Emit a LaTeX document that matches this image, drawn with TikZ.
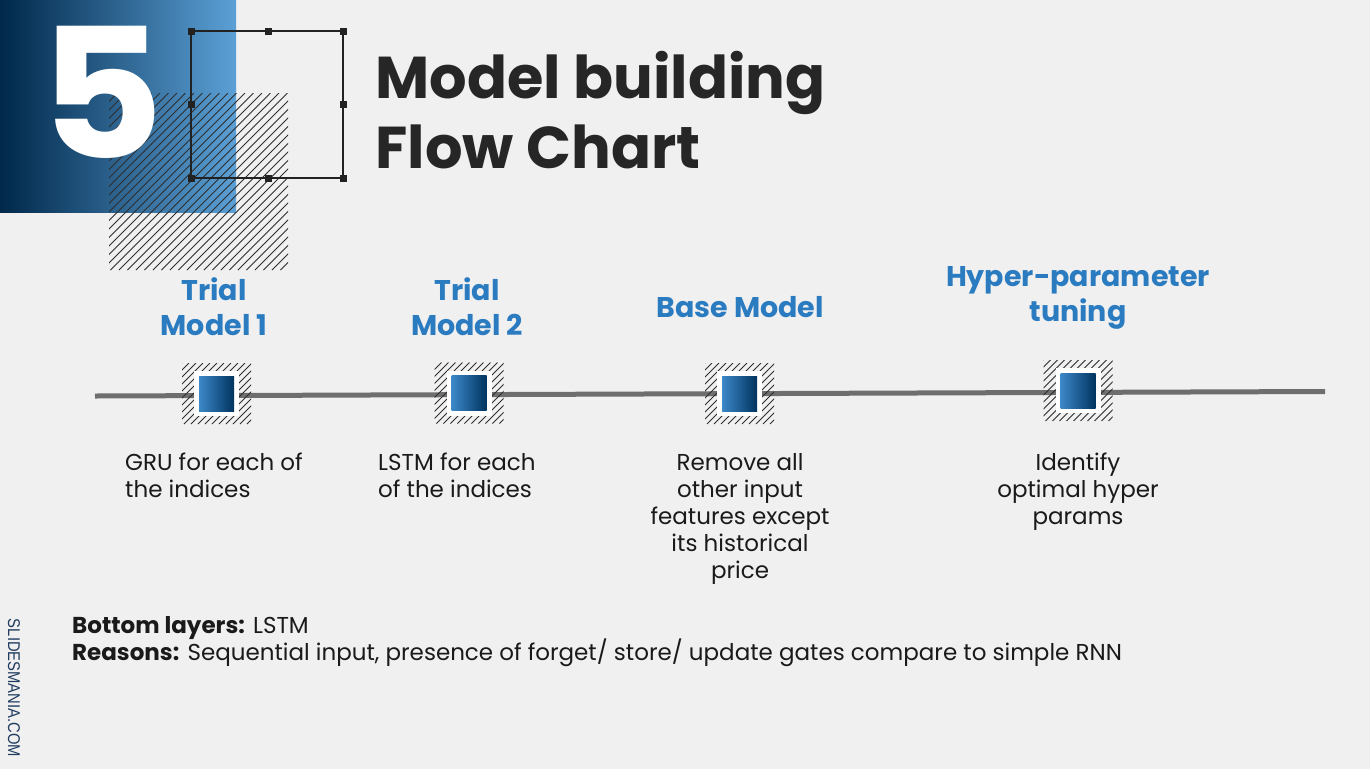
\documentclass[tikz,border=0pt]{standalone}
\usepackage{fontspec}
\setmainfont{Poppins}
\newfontfamily\brandfont{Liberation Sans}
\usetikzlibrary{calc}

\definecolor{pagebg}{HTML}{F0F0F0}
\definecolor{navyL}{HTML}{00284A}
\definecolor{navyM}{HTML}{005B9C}
\definecolor{navyR}{HTML}{5BA0D6}
\definecolor{headblue}{HTML}{2A7BC0}
\definecolor{ink}{HTML}{1A1A1A}
\definecolor{titleink}{HTML}{262626}
\definecolor{framec}{HTML}{222222}
\definecolor{linegray}{HTML}{6E6E6E}
\definecolor{hatchc}{HTML}{2E2E2E}
\definecolor{mkL}{HTML}{3C88C8}
\definecolor{mkR}{HTML}{00335F}
\definecolor{brandc}{HTML}{1F3B5E}

% diagonal hatching inside the rectangle (#1,#2)-(#3,#4), spacing #5
\newcommand{\hatcharea}[6]{%
  \begin{scope}
    \clip (#1,#2) rectangle (#3,#4);
    \pgfmathsetmacro{\hX}{#1}
    \pgfmathsetmacro{\hH}{(#4)-(#2)}
    \pgfmathtruncatemacro{\hN}{((#3)-(#1)+(#4)-(#2))/(#5)+1}
    \foreach \k in {0,...,\hN}
      \draw[#6] (\hX+\k*#5-\hH,#4) -- (\hX+\k*#5,#2);
  \end{scope}}

\tikzset{
  titletext/.style={anchor=base west, text=titleink,
    font=\fontsize{59}{72}\selectfont\bfseries},
  headtext/.style={align=center, text=headblue, inner sep=0pt,
    font=\fontsize{28.5}{34.5}\selectfont\bfseries},
  desctext/.style={text=ink, inner sep=0pt,
    font=\fontsize{23}{27}\selectfont},
  bottomtext/.style={anchor=base west, text=ink, inner sep=0pt,
    font=\fontsize{23}{27}\selectfont},
  timeline/.style={draw=linegray, line width=5pt},
  markhatch/.style={hatchc, line width=0.8pt},
  whitebox/.style={fill=white, minimum size=45pt, inner sep=0pt},
  bluebox/.style={left color=mkL, right color=mkR, minimum size=35pt, inner sep=0pt},
}

\begin{document}
\begin{tikzpicture}[x=1pt,y=-1pt]
\useasboundingbox (0,0) rectangle (1370,769);
\fill[pagebg] (0,0) rectangle (1370,769);

% gradient header block
\shade[left color=navyL, middle color=navyM, right color=navyR] (0,0) rectangle (236,212);

% hatched square behind the frame
\hatcharea{109}{93}{288}{270}{8.5}{hatchc, line width=0.9pt}

% section number, drawn over the hatching
\node[text=white, anchor=base, inner sep=0pt,
      font=\fontsize{181}{181}\selectfont\bfseries] (num) at (102,158) {\scalebox{1.06}[1]{5}};

% selection frame with handles
\draw[framec, line width=2.6pt] (191,31) rectangle (343,178);
\foreach \p in {(191,31),(268,31),(343,31),(343,104),(343,178),(268,178),(191,178),(191,104)}
  \fill[framec] \p ++(-3.5,-3.5) rectangle ++(7,7);

% title
\node[titletext] (title1) at (372,98) {Model building};
\node[titletext] (title2) at (372,168) {Flow Chart};

% timeline
\coordinate (tlA) at (95,396);
\coordinate (tlB) at (1325,391.5);
\draw[timeline] (tlA) -- (tlB);

% markers on the timeline
\foreach \n/\x/\y in {m1/216.5/393.5, m2/469/393, m3/739.5/393.5, m4/1078/390.5}{
  \hatcharea{\x-34.5}{\y-30.5}{\x+34.5}{\y+30.5}{7}{markhatch}
  \node[whitebox] (\n w) at (\x,\y) {};
  \node[bluebox] (\n) at (\x,\y) {};
}

% stage headings (anchored on the baseline of their last line)
\node[headtext, anchor=base] (h1) at (214,335) {Trial\\Model 1};
\node[headtext, anchor=base] (h2) at (467,335) {Trial\\Model 2};
\node[headtext, anchor=base] (h3) at (740,317) {Base Model};
\node[headtext, anchor=base] (h4) at (1078,321) {Hyper-parameter\\tuning};

% stage descriptions (anchored on the baseline of their last line)
\node[desctext, align=left, anchor=base west] (d1) at (125,497) {GRU for each of\\the indices};
\node[desctext, align=left, anchor=base west] (d2) at (378,497) {LSTM for each\\of the indices};
\node[desctext, align=center, anchor=base] (d3) at (740,578) {Remove all\\other input\\features except\\its historical\\price};
\node[desctext, align=center, anchor=base] (d4) at (1078,524) {Identify\\optimal hyper\\params};

% notes
\node[bottomtext] (n1) at (72,633) {\textbf{Bottom layers:} LSTM};
\node[bottomtext] (n2) at (72,660) {\textbf{Reasons:} Sequential input, presence of forget/ store/ update gates compare to simple RNN};

% side brand
\node[rotate=-90, text=brandc, inner sep=0pt] (brand) at (14,688)
  {\scalebox{0.87}[1]{\brandfont\fontsize{17}{17}\selectfont SLIDESMANIA.COM}};
\end{tikzpicture}
\end{document}
